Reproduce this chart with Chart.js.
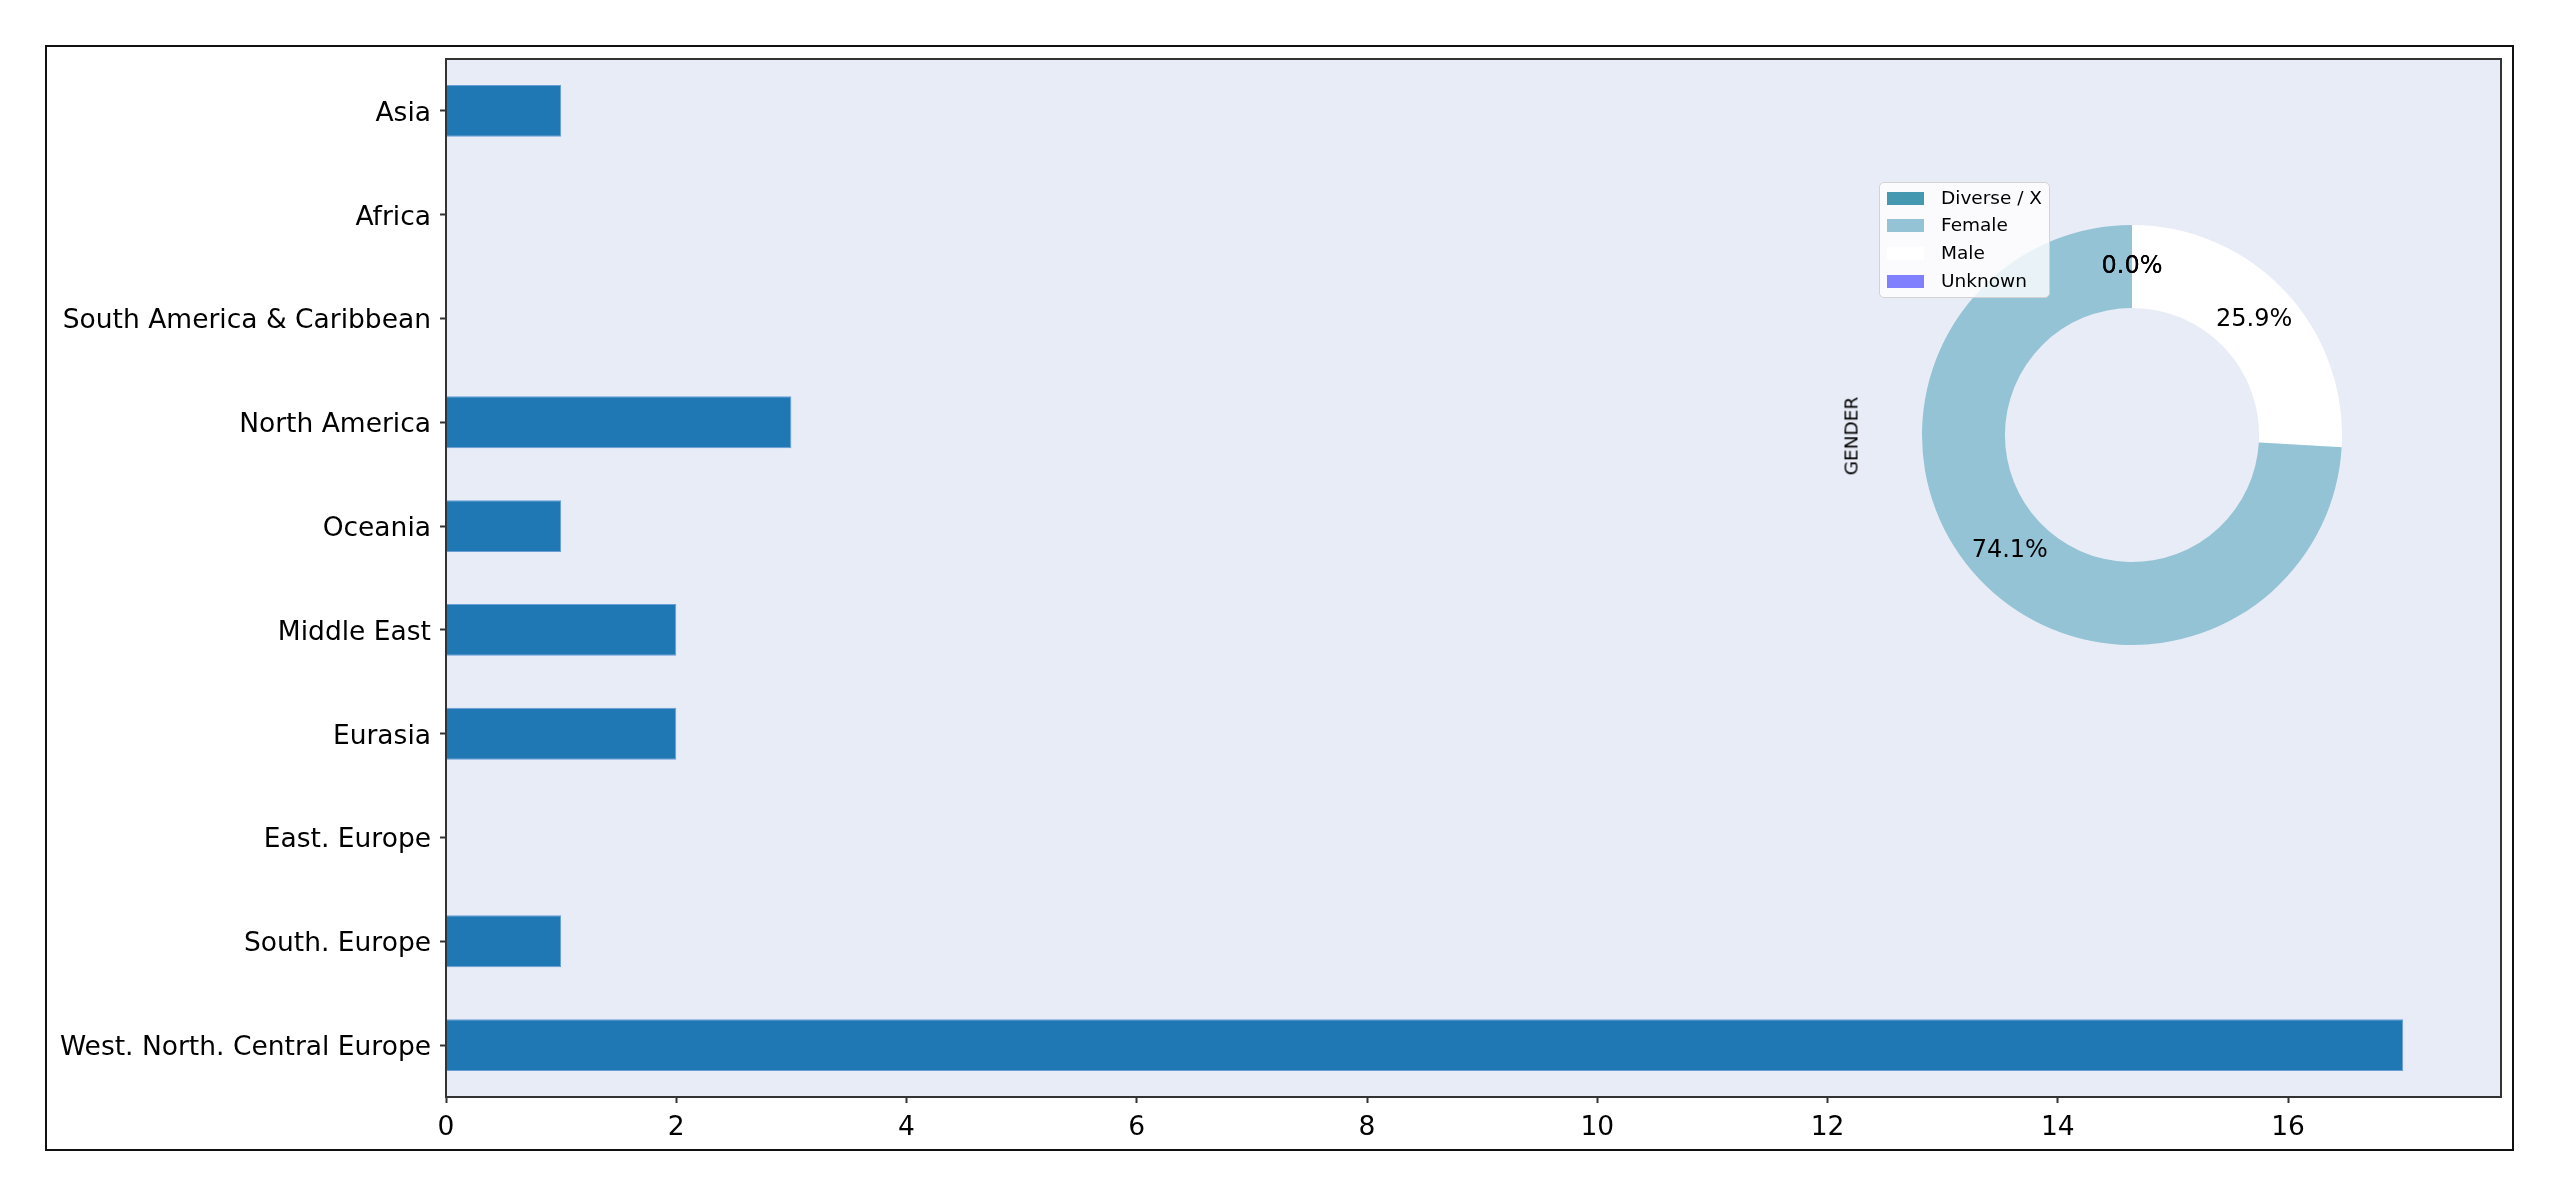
<!DOCTYPE html>
<html><head><meta charset="utf-8">
<script src="https://cdn.jsdelivr.net/npm/chart.js@4.4.0/dist/chart.umd.min.js"></script>
<style>
html,body{margin:0;padding:0;background:#fff;width:2560px;height:1197px;overflow:hidden;font-family:"DejaVu Sans",sans-serif;}
#frame{position:absolute;left:45px;top:45px;width:2469px;height:1106px;border:2px solid #111;box-sizing:border-box;}
#bars{position:absolute;left:0;top:0;}
#donut{position:absolute;left:1922px;top:225px;}
#legend{position:absolute;left:1879px;top:182px;width:171px;height:116px;box-sizing:border-box;border:1.5px solid #d3d3d3;border-radius:5px;background:rgba(255,255,255,0.8);z-index:5;}
.lrow{position:absolute;left:0;height:28px;width:100%;}
.sw{position:absolute;left:7px;width:37px;height:13px;}
.lt{position:absolute;left:61px;font-size:18.5px;color:#000;white-space:nowrap;line-height:20px;}
#glabel{position:absolute;left:1851px;top:436px;transform:translate(-50%,-50%) rotate(-90deg);font-size:18.5px;color:#000;white-space:nowrap;}
</style></head>
<body>
<div id="frame"></div>
<canvas id="bars" width="2560" height="1197"></canvas>
<canvas id="donut" width="420" height="420"></canvas>
<div id="legend"></div>
<div id="glabel">GENDER</div>
<script>
const regions = ['Asia','Africa','South America & Caribbean','North America','Oceania','Middle East','Eurasia','East. Europe','South. Europe','West. North. Central Europe'];
const regionCounts = [1,0,0,3,1,2,2,0,1,17];
const xTickValues = [0,2,4,6,8,10,12,14,16];
const xMax = 17.85;
const genderLabels = ['Diverse / X','Female','Male','Unknown'];
const genderCounts = [0,20,7,0];
const genderColors = ['#4499b1','#93c3d5','#ffffff','#8080ff'];
const genderAxisLabel = 'GENDER';

Chart.defaults.font.family = '"DejaVu Sans", sans-serif';
Chart.defaults.color = '#000';

const plotBg = {
  id:'plotBg',
  beforeDraw(chart){
    const {ctx, chartArea:a} = chart;
    ctx.save(); ctx.fillStyle = '#e8ecf6';
    ctx.fillRect(a.left, a.top, a.right-a.left, a.bottom-a.top); ctx.restore();
  },
  afterDraw(chart){
    const {ctx, chartArea:a} = chart;
    ctx.save(); ctx.strokeStyle = '#333'; ctx.lineWidth = 2;
    ctx.strokeRect(a.left, a.top, a.right-a.left, a.bottom-a.top); ctx.restore();
  }
};

new Chart(document.getElementById('bars'), {
  type:'bar',
  data:{labels:regions, datasets:[{data:regionCounts, backgroundColor:'#1f77b4', borderColor:'rgba(90,150,210,0.9)', borderWidth:1, barPercentage:0.5, categoryPercentage:1.0}]},
  options:{
    indexAxis:'y', responsive:false, animation:false, devicePixelRatio:1,
    layout:{padding:{left:0, top:59, right:59, bottom:0}},
    plugins:{legend:{display:false}, tooltip:{enabled:false}},
    scales:{
      x:{min:0, max:xMax, border:{display:false},
         grid:{drawOnChartArea:false, drawTicks:true, tickLength:6, tickWidth:2, tickColor:'#333'},
         ticks:{font:{size:26.5}, color:'#000', padding:9, includeBounds:false, maxRotation:0},
         afterBuildTicks(s){ s.ticks = xTickValues.map(v=>({value:v})); },
         afterFit(s){ s.height = 100; }},
      y:{border:{display:false},
         grid:{offset:false, drawOnChartArea:false, drawTicks:true, tickLength:6, tickWidth:2, tickColor:'#333'},
         ticks:{font:{size:26.5}, color:'#000', padding:9, labelOffset:3},
         afterFit(s){ s.width = 446; }}
    }
  },
  plugins:[plotBg]
});

const pctLabels = {
  id:'pctLabels',
  afterDatasetsDraw(chart){
    const {ctx} = chart;
    const ds = chart.data.datasets[0].data;
    const total = ds.reduce((a,b)=>a+b,0);
    ctx.save(); ctx.font = '24px "DejaVu Sans"'; ctx.fillStyle = '#000';
    ctx.textAlign = 'center'; ctx.textBaseline = 'middle';
    chart.getDatasetMeta(0).data.forEach((arc,i)=>{
      const p = arc.getProps(['x','y','startAngle','endAngle','outerRadius'], true);
      const mid = (p.startAngle + p.endAngle)/2;
      const r = p.outerRadius*0.8;
      ctx.fillText((ds[i]/total*100).toFixed(1)+'%', p.x + r*Math.cos(mid), p.y + r*Math.sin(mid));
    });
    ctx.restore();
  }
};

new Chart(document.getElementById('donut'), {
  type:'doughnut',
  data:{labels:genderLabels.slice().reverse(), datasets:[{data:genderCounts.slice().reverse(), backgroundColor:genderColors.slice().reverse(), borderWidth:0}]},
  options:{responsive:false, animation:false, devicePixelRatio:1, cutout:'60.5%',
    layout:{padding:0},
    plugins:{legend:{display:false}, tooltip:{enabled:false}}},
  plugins:[pctLabels]
});

const leg = document.getElementById('legend');
const rowY = [15,42,70,98];
genderLabels.forEach((l,i)=>{
  const row = document.createElement('div'); row.className='lrow'; row.style.top=(rowY[i]-14)+'px';
  const sw = document.createElement('div'); sw.className='sw'; sw.style.top='7.5px'; sw.style.background=genderColors[i];
  const t = document.createElement('div'); t.className='lt'; t.style.top='4px'; t.textContent=l;
  row.appendChild(sw); row.appendChild(t); leg.appendChild(row);
});
document.getElementById('glabel').textContent = genderAxisLabel;
</script>
</body></html>
